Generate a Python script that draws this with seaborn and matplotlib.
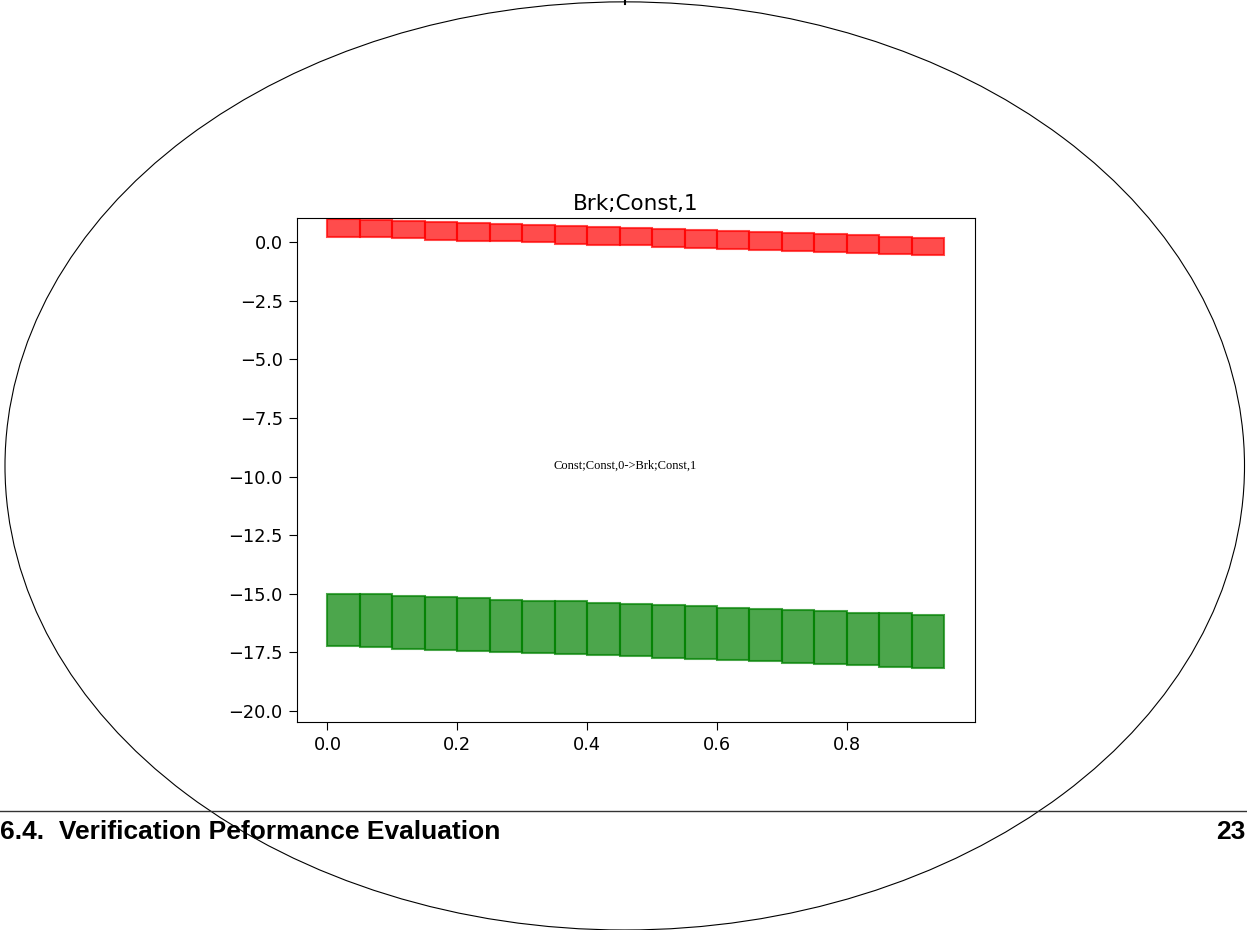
import matplotlib
matplotlib.use("Agg")
import matplotlib.pyplot as plt
from matplotlib.patches import Ellipse
from matplotlib.lines import Line2D
import seaborn as sns
import pandas as pd

# bar left edges (x), width 0.05
x_left = [0.00, 0.05, 0.10, 0.15, 0.20, 0.25, 0.30, 0.35, 0.40, 0.45,
          0.50, 0.55, 0.60, 0.65, 0.70, 0.75, 0.80, 0.85, 0.90]

# red band: top / bottom of each bar
red_top = [0.98, 0.94, 0.90, 0.85, 0.81, 0.77, 0.72, 0.68, 0.64, 0.60,
           0.55, 0.51, 0.47, 0.43, 0.38, 0.34, 0.30, 0.23, 0.18]
red_bottom = [0.24, 0.20, 0.16, 0.11, 0.07, 0.03, -0.01, -0.06, -0.10, -0.14,
              -0.19, -0.23, -0.27, -0.32, -0.36, -0.40, -0.45, -0.50, -0.54]

# green band: top / bottom of each bar
green_top = [-14.99, -15.03, -15.10, -15.13, -15.19, -15.25, -15.30, -15.33, -15.39, -15.44,
             -15.48, -15.54, -15.60, -15.65, -15.68, -15.74, -15.80, -15.84, -15.90]
green_bottom = [-17.23, -17.29, -17.34, -17.39, -17.43, -17.48, -17.53, -17.59, -17.63, -17.67,
                -17.73, -17.78, -17.84, -17.88, -17.95, -18.01, -18.06, -18.11, -18.15]

bar_w = 0.05
title = "Brk;Const,1"
center_note = "Const;Const,0->Brk;Const,1"
footer_left = "6.4.  Verification Peformance Evaluation"
footer_right = "23"

fig = plt.figure(figsize=(12.47, 9.30), dpi=100)
ax = fig.add_axes([0.2379, 0.2237, 0.5440, 0.5416])

red_df = pd.DataFrame({
    "x": [v + bar_w / 2 for v in x_left],
    "h": [t - b for t, b in zip(red_top, red_bottom)],
    "b": red_bottom,
})
green_df = pd.DataFrame({
    "x": [v + bar_w / 2 for v in x_left],
    "h": [t - b for t, b in zip(green_top, green_bottom)],
    "b": green_bottom,
})

for d, col in [(red_df, "red"), (green_df, "green")]:
    sns.barplot(data=d, x="x", y="h", native_scale=True, width=1.0,
                errorbar=None, color=col, saturation=1, alpha=0.7,
                edgecolor=col, linewidth=1.5, bottom=d["b"].to_numpy(), ax=ax)

ax.set_xlim(-0.0475, 0.9975)
ax.set_ylim(-20.47, 1.02)
ax.set_xticks([0.0, 0.2, 0.4, 0.6, 0.8])
ax.set_xticklabels(["0.0", "0.2", "0.4", "0.6", "0.8"])
ax.set_yticks([0.0, -2.5, -5.0, -7.5, -10.0, -12.5, -15.0, -17.5, -20.0])
ax.set_yticklabels(["0.0", "\u22122.5", "\u22125.0", "\u22127.5", "\u221210.0",
                    "\u221212.5", "\u221215.0", "\u221217.5", "\u221220.0"])
ax.set_xlabel("")
ax.set_ylabel("")
ax.tick_params(labelsize=12.8, length=5.5, pad=4.5)
for s in ax.spines.values():
    s.set_visible(True)
    s.set_color("black")
ax.set_title(title, fontsize=15.5, pad=6)

fig.text(0.501, 0.499, center_note, family="Liberation Serif", fontsize=9,
         ha="center", va="center")

# page decorations
fig.patches.append(Ellipse((0.501, 0.499), 0.994, 0.998, transform=fig.transFigure,
                           fill=False, edgecolor="black", linewidth=0.8))
fig.lines.append(Line2D([0.501, 0.501], [0.996, 1.0], transform=fig.transFigure,
                        color="black", linewidth=1.5))
fig.lines.append(Line2D([0, 1], [0.128, 0.128], transform=fig.transFigure,
                        color="#333333", linewidth=1.0))
fig.text(0.0, 0.105, footer_left, family="Liberation Sans", fontweight="bold",
         fontsize=19, ha="left", va="center")
fig.text(0.999, 0.105, footer_right, family="Liberation Sans", fontweight="bold",
         fontsize=19, ha="right", va="center")

fig.savefig("out.png", dpi=100)
